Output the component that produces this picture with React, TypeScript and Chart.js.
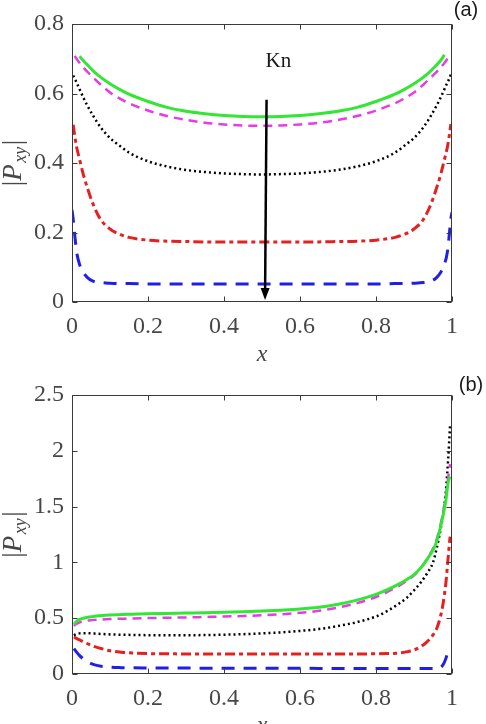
import React, { useEffect, useRef } from "react";
import { Chart, registerables } from "chart.js";

Chart.register(...registerables);

// ---------------- data ----------------
const xTicks = [0, 0.2, 0.4, 0.6, 0.8, 1];
const xTickLabels = ["0", "0.2", "0.4", "0.6", "0.8", "1"];
const yTicksA = [0, 0.2, 0.4, 0.6, 0.8];
const yTickLabelsA = ["0", "0.2", "0.4", "0.6", "0.8"];
const yTicksB = [0, 0.5, 1, 1.5, 2, 2.5];
const yTickLabelsB = ["0", "0.5", "1", "1.5", "2", "2.5"];

// panel (a)
const xA = [0, 0.003, 0.007, 0.012, 0.02, 0.03, 0.04, 0.055, 0.075, 0.1, 0.125, 0.15, 0.2, 0.25, 0.3, 0.35, 0.4, 0.45, 0.5,
  0.55, 0.6, 0.65, 0.7, 0.75, 0.8, 0.85, 0.875, 0.9, 0.925, 0.945, 0.96, 0.97, 0.98, 0.988, 0.993, 0.997, 1];
const greenA = [null, null, null, null, 0.707, 0.694, 0.683, 0.666, 0.647, 0.628, 0.612, 0.598, 0.577, 0.56, 0.549, 0.542, 0.537, 0.534, 0.533,
  0.534, 0.537, 0.542, 0.549, 0.56, 0.577, 0.598, 0.612, 0.628, 0.647, 0.666, 0.683, 0.695, 0.711, null, null, null, null];
const magentaA = [null, null, 0.708, 0.7, 0.688, 0.675, 0.663, 0.647, 0.626, 0.603, 0.586, 0.572, 0.551, 0.535, 0.524, 0.516, 0.511, 0.508, 0.507,
  0.508, 0.511, 0.516, 0.524, 0.535, 0.551, 0.572, 0.586, 0.603, 0.626, 0.647, 0.663, 0.675, 0.688, 0.7, null, null, null];
const blackA = [null, 0.652, 0.643, 0.632, 0.612, 0.588, 0.566, 0.537, 0.503, 0.472, 0.45, 0.43, 0.405, 0.39, 0.38, 0.374, 0.37, 0.368, 0.367,
  0.368, 0.37, 0.374, 0.38, 0.39, 0.405, 0.43, 0.45, 0.472, 0.503, 0.537, 0.566, 0.588, 0.612, 0.632, 0.643, 0.655, null];
const redA = [null, 0.51, 0.48, 0.447, 0.41, 0.366, 0.33, 0.283, 0.238, 0.21, 0.195, 0.186, 0.178, 0.175, 0.174, 0.173, 0.173, 0.173, 0.173,
  0.173, 0.173, 0.173, 0.174, 0.175, 0.178, 0.186, 0.195, 0.21, 0.238, 0.283, 0.33, 0.366, 0.41, 0.447, 0.48, 0.512, null];
const blueA = [0.265, 0.24, 0.195, 0.145, 0.108, 0.085, 0.071, 0.06, 0.056, 0.054, 0.053, 0.053, 0.052, 0.052, 0.052, 0.052, 0.052, 0.052, 0.052,
  0.052, 0.052, 0.052, 0.052, 0.052, 0.052, 0.053, 0.053, 0.054, 0.056, 0.06, 0.071, 0.085, 0.108, 0.145, 0.195, 0.24, 0.258];

// panel (b)
const xB = [0, 0.005, 0.01, 0.02, 0.03, 0.045, 0.06, 0.08, 0.1, 0.13, 0.16, 0.2, 0.25, 0.3, 0.35, 0.4, 0.45, 0.5, 0.55, 0.6, 0.65, 0.7,
  0.75, 0.8, 0.83, 0.86, 0.88, 0.9, 0.92, 0.935, 0.95, 0.96, 0.97, 0.977, 0.984, 0.99, 0.995, 1];
const greenB = [null, 0.445, 0.465, 0.489, 0.5, 0.51, 0.518, 0.525, 0.529, 0.533, 0.536, 0.54, 0.543, 0.546, 0.549, 0.553, 0.558, 0.564,
  0.572, 0.582, 0.598, 0.625, 0.662, 0.713, 0.755, 0.805, 0.845, 0.89, 0.96, 1.03, 1.11, 1.19, 1.32, 1.43, 1.56, 1.72, 1.77, null];
const magentaB = [null, 0.43, 0.445, 0.462, 0.472, 0.48, 0.485, 0.489, 0.492, 0.495, 0.498, 0.501, 0.504, 0.507, 0.511, 0.515, 0.52, 0.526,
  0.535, 0.548, 0.566, 0.595, 0.635, 0.69, 0.735, 0.79, 0.835, 0.885, 0.96, 1.035, 1.125, 1.21, 1.34, 1.46, 1.6, 1.76, 1.88, null];
const blackB = [null, 0.347, 0.356, 0.364, 0.366, 0.365, 0.362, 0.358, 0.355, 0.352, 0.35, 0.348, 0.347, 0.347, 0.349, 0.352, 0.357, 0.364,
  0.373, 0.386, 0.403, 0.43, 0.465, 0.515, 0.565, 0.63, 0.68, 0.75, 0.83, 0.905, 1.0, 1.13, 1.3, 1.44, 1.64, 1.93, 2.23, null];
const redB = [null, 0.332, 0.322, 0.305, 0.288, 0.265, 0.245, 0.225, 0.208, 0.195, 0.188, 0.183, 0.181, 0.18, 0.18, 0.18, 0.18, 0.18,
  0.18, 0.18, 0.18, 0.18, 0.18, 0.181, 0.183, 0.188, 0.198, 0.215, 0.25, 0.29, 0.35, 0.41, 0.52, 0.64, 0.82, 1.05, 1.23, null];
const blueB = [null, 0.228, 0.205, 0.165, 0.135, 0.103, 0.082, 0.068, 0.061, 0.057, 0.055, 0.054, 0.053, 0.053, 0.052, 0.052, 0.052, 0.051,
  0.051, 0.051, 0.05, 0.05, 0.05, 0.05, 0.05, 0.05, 0.05, 0.05, 0.05, 0.05, 0.05, 0.052, 0.06, 0.085, 0.14, 0.21, null, null];

// ---------------- styling ----------------
const W = 486;
const H = 362;
const AXIS_COLOR = "#3a3a3a";
const TEXT_COLOR = "#474747";
const SERIF = '"Liberation Serif", "DejaVu Serif", serif';
const SANS = '"Liberation Sans", Arial, sans-serif';

const STYLES = [
  { color: "#33e633", width: 3, dash: [] as number[] },
  { color: "#e63ce6", width: 2.5, dash: [9, 6] },
  { color: "#000000", width: 2.5, dash: [2, 3] },
  { color: "#e62020", width: 3, dash: [10, 4, 4, 4] },
  { color: "#1f1fe6", width: 3, dash: [13, 9] },
];

function toPoints(xs: number[], ys: (number | null)[]) {
  return xs.map((x, i) => ({ x, y: ys[i] }));
}

function drawPxy(ctx: CanvasRenderingContext2D, bx: number, cy: number) {
  ctx.save();
  ctx.translate(bx, cy);
  ctx.rotate(-Math.PI / 2);
  ctx.fillStyle = TEXT_COLOR;
  ctx.textBaseline = "alphabetic";
  ctx.textAlign = "left";
  const fBar = `27px ${SERIF}`;
  const fP = `italic 27px ${SERIF}`;
  const fSub = `italic 18px ${SERIF}`;
  ctx.font = fBar;
  const wBar = ctx.measureText("|").width;
  ctx.font = fP;
  const wP = ctx.measureText("P").width;
  ctx.font = fSub;
  const wSub = ctx.measureText("xy").width;
  const gap = 1.5;
  const total = wBar + wP + gap + wSub + gap + wBar;
  let u = -total / 2;
  ctx.font = fBar;
  ctx.fillText("|", u, 0);
  u += wBar;
  ctx.font = fP;
  ctx.fillText("P", u, 0);
  u += wP + gap;
  ctx.font = fSub;
  ctx.fillText("xy", u, 5);
  u += wSub + gap;
  ctx.font = fBar;
  ctx.fillText("|", u, 0);
  ctx.restore();
}

type PanelOpts = {
  id: string;
  label: string;
  labelX: number;
  labelY: number;
  xTitleBaseline: number;
  arrow: boolean;
  yTicks: number[];
};

function framePlugin(p: PanelOpts) {
  return {
    id: "frame_" + p.id,
    afterDraw(chart: any) {
      const { ctx, chartArea: a, scales } = chart;
      const xs = scales.x;
      const ys = scales.y;
      const L = Math.round(a.left) + 0.5;
      const R = Math.round(a.right) - 0.5;
      const T = Math.round(a.top) + 0.5;
      const B = Math.round(a.bottom) - 0.5;
      ctx.save();
      ctx.strokeStyle = AXIS_COLOR;
      ctx.lineWidth = 1;
      ctx.setLineDash([]);
      ctx.strokeRect(L, T, R - L, B - T);
      const tl = 5;
      ctx.beginPath();
      xTicks.forEach((v) => {
        const px = Math.round(xs.getPixelForValue(v)) + 0.5;
        ctx.moveTo(px, B);
        ctx.lineTo(px, B - tl);
        ctx.moveTo(px, T);
        ctx.lineTo(px, T + tl);
      });
      p.yTicks.forEach((v) => {
        const py = Math.round(ys.getPixelForValue(v)) + 0.5;
        ctx.moveTo(L, py);
        ctx.lineTo(L + tl, py);
        ctx.moveTo(R, py);
        ctx.lineTo(R - tl, py);
      });
      ctx.stroke();

      // axis titles
      ctx.fillStyle = TEXT_COLOR;
      ctx.font = `italic 24px ${SERIF}`;
      ctx.textAlign = "center";
      ctx.textBaseline = "alphabetic";
      ctx.fillText("x", (a.left + a.right) / 2, p.xTitleBaseline);
      drawPxy(ctx, 21, (a.top + a.bottom) / 2);

      // panel label
      ctx.fillStyle = "#1a1a1a";
      ctx.font = `20px ${SANS}`;
      ctx.textAlign = "center";
      ctx.textBaseline = "middle";
      ctx.fillText(p.label, p.labelX, p.labelY);

      if (p.arrow) {
        const x0 = xs.getPixelForValue(0.512);
        const y0 = ys.getPixelForValue(0.582);
        const x1 = xs.getPixelForValue(0.508);
        const y1 = ys.getPixelForValue(0.006);
        const hl = 12;
        const hw = 4.5;
        const ang = Math.atan2(y1 - y0, x1 - x0);
        const bxp = x1 - hl * Math.cos(ang);
        const byp = y1 - hl * Math.sin(ang);
        ctx.strokeStyle = "#000";
        ctx.lineWidth = 2.5;
        ctx.beginPath();
        ctx.moveTo(x0, y0);
        ctx.lineTo(bxp, byp);
        ctx.stroke();
        ctx.fillStyle = "#000";
        ctx.beginPath();
        ctx.moveTo(x1, y1);
        ctx.lineTo(bxp + hw * Math.sin(ang), byp - hw * Math.cos(ang));
        ctx.lineTo(bxp - hw * Math.sin(ang), byp + hw * Math.cos(ang));
        ctx.closePath();
        ctx.fill();

        ctx.fillStyle = "#1a1a1a";
        ctx.font = `21px ${SERIF}`;
        ctx.textAlign = "center";
        ctx.textBaseline = "middle";
        ctx.fillText("Kn", xs.getPixelForValue(0.543), ys.getPixelForValue(0.693));
      }
      ctx.restore();
    },
  };
}

function makeConfig(
  xs: number[],
  series: (number | null)[][],
  yMax: number,
  yTicks: number[],
  yLabels: string[],
  padTop: number,
  xAxisHeight: number,
  p: PanelOpts
): any {
  return {
    type: "line",
    data: {
      datasets: series.map((ys, i) => ({
        data: toPoints(xs, ys),
        borderColor: STYLES[i].color,
        borderWidth: STYLES[i].width,
        borderDash: STYLES[i].dash,
        borderCapStyle: "butt",
        pointRadius: 0,
        fill: false,
        cubicInterpolationMode: "monotone",
        spanGaps: false,
      })),
    },
    options: {
      animation: false,
      responsive: false,
      devicePixelRatio: 1,
      layout: { padding: { left: 0, right: 34, top: padTop, bottom: 0 } },
      plugins: { legend: { display: false }, tooltip: { enabled: false }, title: { display: false } },
      scales: {
        x: {
          type: "linear",
          min: 0,
          max: 1,
          grid: { display: false, drawTicks: false },
          border: { display: false },
          afterBuildTicks: (s: any) => {
            s.ticks = xTicks.map((v) => ({ value: v }));
          },
          afterFit: (s: any) => {
            s.height = xAxisHeight;
          },
          ticks: {
            color: TEXT_COLOR,
            font: { family: SERIF, size: 24 },
            padding: 10,
            maxRotation: 0,
            autoSkip: false,
            callback: (_v: any, i: number) => xTickLabels[i],
          },
        },
        y: {
          type: "linear",
          min: 0,
          max: yMax,
          grid: { display: false, drawTicks: false },
          border: { display: false },
          afterBuildTicks: (s: any) => {
            s.ticks = yTicks.map((v) => ({ value: v }));
          },
          afterFit: (s: any) => {
            s.width = 72;
          },
          ticks: {
            color: TEXT_COLOR,
            font: { family: SERIF, size: 24 },
            padding: 8,
            autoSkip: false,
            callback: (_v: any, i: number) => yLabels[i],
          },
        },
      },
    },
    plugins: [framePlugin(p)],
  };
}

export default function App() {
  const refA = useRef<HTMLCanvasElement>(null);
  const refB = useRef<HTMLCanvasElement>(null);

  useEffect(() => {
    const chartA = new Chart(
      refA.current as HTMLCanvasElement,
      makeConfig(xA, [greenA, magentaA, blackA, redA, blueA], 0.8, yTicksA, yTickLabelsA, 24, 60, {
        id: "a",
        label: "(a)",
        labelX: 466,
        labelY: 10,
        xTitleBaseline: 361,
        arrow: true,
        yTicks: yTicksA,
      })
    );
    const chartB = new Chart(
      refB.current as HTMLCanvasElement,
      makeConfig(xB, [greenB, magentaB, blackB, redB, blueB], 2.5, yTicksB, yTickLabelsB, 33, 50, {
        id: "b",
        label: "(b)",
        labelX: 471,
        labelY: 23,
        xTitleBaseline: 370,
        arrow: false,
        yTicks: yTicksB,
      })
    );
    return () => {
      chartA.destroy();
      chartB.destroy();
    };
  }, []);

  return (
    <div style={{ position: "fixed", left: 0, top: 0, width: W, height: 2 * H, background: "#fff", overflow: "hidden" }}>
      <canvas ref={refA} width={W} height={H} style={{ display: "block", width: W, height: H }} />
      <canvas ref={refB} width={W} height={H} style={{ display: "block", width: W, height: H }} />
    </div>
  );
}
